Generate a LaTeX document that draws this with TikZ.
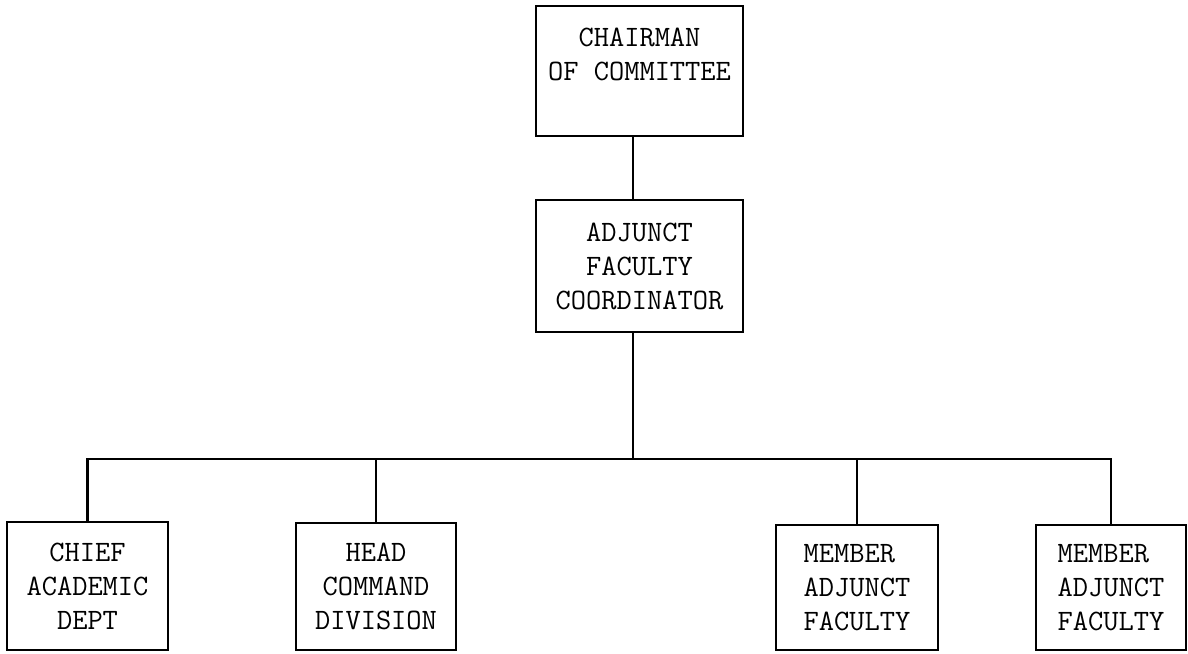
\documentclass[tikz,border=0pt]{standalone}
\usepackage{fontspec}
\usepackage{tikz}

\tikzset{
	unit/.style={draw, line width=1.1pt, inner sep=0pt, align=center,
		font=\ttfamily\fontsize{14.8}{17}\selectfont},
	link/.style={-, line width=1.1pt}
}

\begin{document}
\begin{tikzpicture}[x=0.5pt,y=-0.5pt]
		\useasboundingbox (0,0) rectangle (1188,653);
		\begin{scope}[every node/.append style={unit}]
			\node[minimum width=103.5pt, minimum height=65pt] (chair) at (639.5,71) {CHAIRMAN\\OF COMMITTEE\\\mbox{}};
			\node[minimum width=103.5pt, minimum height=66pt] (coord) at (639.5,266) {ADJUNCT\\FACULTY\\COORDINATOR};
		
			\node[minimum width=80.5pt, minimum height=64pt] (chief) at (87.5,586) {CHIEF\\ACADEMIC\\DEPT};
			\node[minimum width=80pt, minimum height=63.5pt] (head) at (376,586.5) {HEAD\\COMMAND\\DIVISION};
			\node[minimum width=81pt, minimum height=62.5pt, align=left] (memA) at (857,587.5) {MEMBER\\ADJUNCT\\FACULTY};
			\node[minimum width=75pt, minimum height=62.5pt, align=left] (memB) at (1111,587.5) {MEMBER\\ADJUNCT\\FACULTY};
		\end{scope}
		
		\coordinate (bus) at (633,459);
		
		\draw[link] (chair.south -| bus) to (coord.north -| bus);
		\draw[link] (coord.south -| bus) to (bus);
		\draw[link] (chief.north) to (chief.north |- bus) to (memB.north |- bus) to (memB.north);
		\draw[link] (head.north) to (head.north |- bus);
		\draw[link] (memA.north) to (memA.north |- bus);
	\end{tikzpicture}
\end{document}
